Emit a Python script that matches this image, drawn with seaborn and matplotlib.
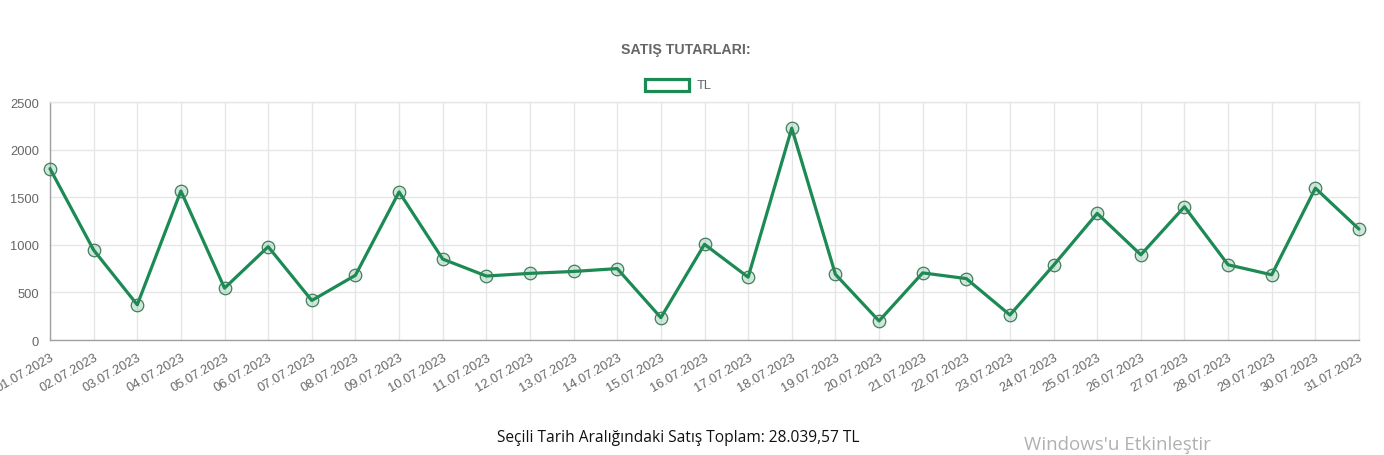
import pandas as pd
import numpy as np
import matplotlib.pyplot as plt
import seaborn as sns
from matplotlib.patches import Rectangle

# Data
dates = ['01.07.2023', '02.07.2023', '03.07.2023', '04.07.2023', '05.07.2023',
         '06.07.2023', '07.07.2023', '08.07.2023', '09.07.2023', '10.07.2023',
         '11.07.2023', '12.07.2023', '13.07.2023', '14.07.2023', '15.07.2023',
         '16.07.2023', '17.07.2023', '18.07.2023', '19.07.2023', '20.07.2023',
         '21.07.2023', '22.07.2023', '23.07.2023', '24.07.2023', '25.07.2023',
         '26.07.2023', '27.07.2023', '28.07.2023', '29.07.2023', '30.07.2023',
         '31.07.2023']
sales = [1800, 945, 370, 1565, 545, 980, 415, 680, 1555, 850,
         672, 700, 720, 750, 235, 1005, 660, 2225, 690, 200,
         705, 645, 263, 785, 1330, 895, 1400, 790, 685, 1595, 1165]
y_ticks = [0, 500, 1000, 1500, 2000, 2500]

title_text = 'SATIŞ TUTARLARI:'
legend_label = 'TL'
total_text = 'Seçili Tarih Aralığındaki Satış Toplam: 28.039,57 TL'
watermark_text = "Windows'u Etkinleştir"

green = '#1b8a53'
grey_text = '#666666'

sns.set_theme(style='white')
plt.rcParams['font.family'] = ['Liberation Sans', 'DejaVu Sans']

df = pd.DataFrame({'idx': np.arange(len(dates)), 'date': dates, 'value': sales})

fig = plt.figure(figsize=(13.84, 4.56), dpi=100)
ax = fig.add_axes([50 / 1384, 1 - 341 / 456, (1359 - 50) / 1384, (341 - 103) / 456])

sns.lineplot(data=df, x='idx', y='value', ax=ax, color=green, linewidth=2.3,
             marker='o', markersize=9, markerfacecolor=(0.106, 0.541, 0.325, 0.2),
             markeredgecolor='#3f7f5c', markeredgewidth=0.9, clip_on=False, zorder=3)

ax.set_xlim(0, len(dates) - 1)
ax.set_ylim(0, 2500)
ax.set_yticks(y_ticks)
ax.set_xticks(df['idx'])
ax.set_xticklabels(dates, rotation=30, ha='right', rotation_mode='anchor')
ax.set_xlabel('')
ax.set_ylabel('')

ax.grid(True, color='#e6e6e6', linewidth=1)
ax.set_axisbelow(True)
for side in ['top', 'right']:
    ax.spines[side].set_color('#e6e6e6')
    ax.spines[side].set_linewidth(1)
for side in ['left', 'bottom']:
    ax.spines[side].set_color('#a0a0a0')
    ax.spines[side].set_linewidth(1)
ax.tick_params(axis='both', which='both', length=6, width=1, color='#e0e0e0',
               labelsize=9.3, labelcolor=grey_text, pad=2)

# title and legend like the dashboard widget
fig.text(686 / 1384, 1 - 50 / 456, title_text, ha='center', va='center',
         fontsize=10.2, fontweight='bold', color=grey_text)
fig.patches.append(Rectangle((645 / 1384, 1 - 92 / 456), 44 / 1384, 12 / 456,
                             transform=fig.transFigure, facecolor='white',
                             edgecolor=green, linewidth=2.3))
fig.text(697 / 1384, 1 - 86 / 456, legend_label, ha='left', va='center',
         fontsize=9.3, color=grey_text)

fig.text(678 / 1384, 1 - 438 / 456, total_text, ha='center', va='center',
         fontsize=11.2, color='#111111', family=['Open Sans', 'DejaVu Sans'])
fig.text(1117 / 1384, 1 - 445 / 456, watermark_text, ha='center', va='center',
         fontsize=13.5, color='#b0b0b0', family=['Open Sans', 'DejaVu Sans'])

fig.savefig('out.png', dpi=100)
